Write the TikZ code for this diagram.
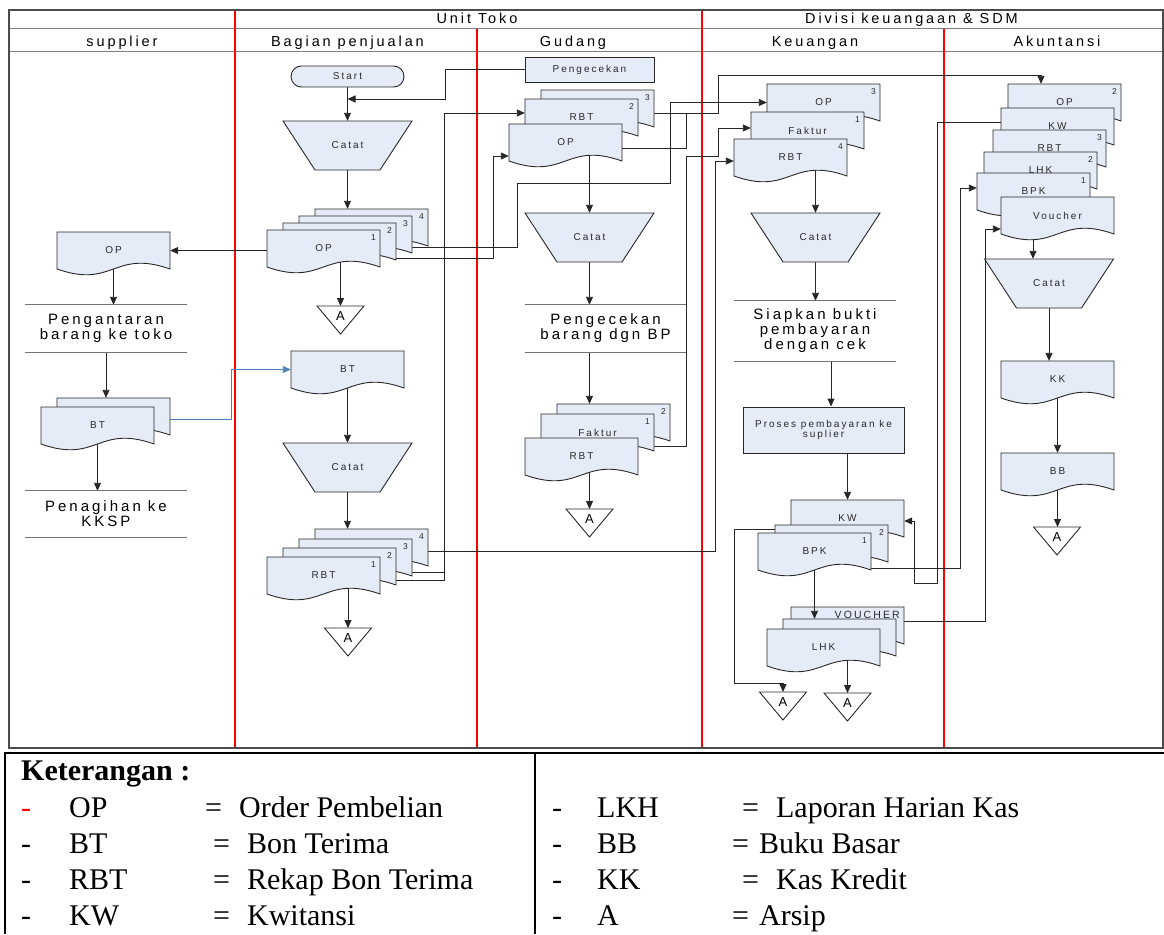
\documentclass[tikz,border=0pt]{standalone}
\usepackage{fontspec}
\setmainfont{Liberation Serif}
\newfontfamily\visfont{Liberation Sans}[LetterSpace=20]
\usetikzlibrary{arrows.meta, positioning, calc}
\definecolor{docblue}{RGB}{230,236,247}
\definecolor{inkgray}{RGB}{40,40,40}
\definecolor{linkblue}{RGB}{79,129,189}
\pgfdeclarelayer{back}
\pgfdeclarelayer{links}
\pgfsetlayers{back,links,main}
\tikzset{
  outerframe/.style={draw=black!70, line width=1.1pt},
  hdrline/.style={draw=black!50, line width=1pt},
  lane/.style={draw=red, line width=1.3pt},
  hdr/.style={anchor=base, inner sep=0pt, font=\visfont\fontsize{14.5}{17}\selectfont},
  shapeline/.style={draw=inkgray, line width=0.9pt, fill=docblue},
  docbody/.style={minimum width=113pt, minimum height=37pt, inner sep=0pt, text=inkgray,
    font=\visfont\fontsize{10}{12}\selectfont},
  docnum/.style={anchor=east, inner sep=0pt, text=inkgray, font=\visfont\fontsize{8.5}{10}\selectfont},
  catatbox/.style={minimum width=65pt, minimum height=49pt, inner sep=0pt, text=inkgray,
    font=\visfont\fontsize{10}{12}\selectfont},
  arsipbox/.style={anchor=north, minimum width=47pt, minimum height=19pt, inner sep=0pt,
    font=\visfont\fontsize{13}{14}\selectfont},
  procbox/.style={shapeline, rectangle, inner sep=0pt, align=center, text=inkgray,
    font=\visfont\fontsize{10}{10}\selectfont},
  term/.style={procbox, rounded corners=10.5pt, minimum width=113pt, minimum height=21pt},
  proc/.style={inner sep=0pt, align=center, font=\visfont\fontsize{15}{15}\selectfont},
  procline/.style={draw=black!55, line width=1pt},
  link/.style={draw=black!85, line width=0.9pt},
  flow/.style={link, -{Triangle[length=8pt, width=7pt]}},
  bluelink/.style={draw=linkblue, line width=0.9pt, -{Triangle[length=8pt, width=7pt]}},
  legendtext/.style={anchor=base west, inner sep=0pt, font=\fontsize{30}{32}\selectfont},
}
% document with wavy bottom: name, left, top, label, copy number
\newcommand{\docshape}[5]{%
  \filldraw[shapeline] (#2,#3) -- ({#2+113},#3) -- ({#2+113},{#3+37})
    .. controls ({#2+56.5},{#3+17}) and ({#2+56.5},{#3+57}) .. (#2,{#3+37}) -- cycle;
  \node[docbody] (#1) at ({#2+56.5},{#3+18.5}) {#4};
  \node[docnum] (#1n) at ({#2+109},{#3+7.5}) {#5};
}
% manual operation: name, centre x, top
\newcommand{\catat}[3]{%
  \filldraw[shapeline] ({#2-64.5},#3) -- ({#2+64.5},#3) -- ({#2+32.5},{#3+49})
    -- ({#2-32.5},{#3+49}) -- cycle;
  \node[catatbox] (#1) at (#2,{#3+24.5}) {Catat};
}
% archive triangle: name, centre x, top
\newcommand{\arsip}[3]{%
  \filldraw[shapeline, fill=white] ({#2-23.5},#3) -- ({#2+23.5},#3) -- (#2,{#3+28}) -- cycle;
  \node[arsipbox] (#1) at (#2,#3) {A};
}

\begin{document}
\begin{tikzpicture}[x=1pt, y=-1pt]
  \useasboundingbox (0,0) rectangle (1164,934);
  \begin{pgfonlayer}{back}
    \fill[white] (0,0) rectangle (1164,934);
    \draw[hdrline] (9,29) -- (1163,29) (9,52) -- (1163,52);
    \draw[lane] (235,10) -- (235,748) (702,10) -- (702,748);
    \draw[lane] (477,29) -- (477,748) (944,29) -- (944,748);
    \draw[outerframe] (9,10) rectangle (1163,748);
    \node[hdr] (hUnit) at (477,23.5) {Unit Toko};
    \node[hdr] (hDiv) at (911.5,23.5) {Divisi keuangaan \& SDM};
    \node[hdr] (hSup) at (122,46.5) {supplier};
    \node[hdr] (hPj) at (347.5,46.5) {Bagian penjualan};
    \node[hdr] (hGd) at (573,46.5) {Gudang};
    \node[hdr] (hKu) at (815,46.5) {Keuangan};
    \node[hdr] (hAk) at (1057,46.5) {Akuntansi};
  \end{pgfonlayer}

  % supplier
  \docshape{supOP}{57}{232}{OP}{}
  \node[proc, minimum width=162pt, minimum height=47pt] (supKirim) at (106,328.5) {Pengantaran\\barang ke toko};
  \docshape{supBTb}{57}{398}{}{}
  \docshape{supBT}{41}{407}{BT}{}
  \node[proc, minimum width=162pt, minimum height=46pt] (supTagih) at (106,514) {Penagihan ke\\KKSP};
  \draw[procline] (supKirim.north west) -- (supKirim.north east) (supKirim.south west) -- (supKirim.south east);
  \draw[procline] (supTagih.north west) -- (supTagih.north east) (supTagih.south west) -- (supTagih.south east);

  % bagian penjualan
  \node[term] (start) at (347.5,76.5) {Start};
  \catat{pjCatatA}{347.5}{121}
  \docshape{pjOP4}{315}{209}{}{4}
  \docshape{pjOP3}{299}{216}{}{3}
  \docshape{pjOP2}{283}{223}{}{2}
  \docshape{pjOP1}{267}{230}{OP}{1}
  \arsip{pjArsipA}{340.5}{306}
  \docshape{pjBT}{291}{351}{BT}{}
  \catat{pjCatatB}{347.5}{443}
  \docshape{pjRBT4}{315}{529}{}{4}
  \docshape{pjRBT3}{299}{539}{}{3}
  \docshape{pjRBT2}{283}{548}{}{2}
  \docshape{pjRBT1}{267}{557}{RBT}{1}
  \arsip{pjArsipB}{348}{628}

  % gudang
  \node[procbox, minimum width=129pt, minimum height=25pt] (gdCek) at (589.5,69.5) {Pengecekan};
  \docshape{gdRBT3}{541}{90}{}{3}
  \docshape{gdRBT2}{525}{99}{RBT}{2}
  \docshape{gdOP}{509}{124}{OP}{}
  \catat{gdCatat}{589.5}{213}
  \node[proc, minimum width=161pt, minimum height=47pt] (gdCekBrg) at (605.5,328.5) {Pengecekan\\barang dgn BP};
  \draw[procline] (gdCekBrg.north west) -- (gdCekBrg.north east) (gdCekBrg.south west) -- (gdCekBrg.south east);
  \docshape{gdFak2}{557}{404}{}{2}
  \docshape{gdFak1}{541}{414}{Faktur}{1}
  \docshape{gdRBT}{525}{438}{RBT}{}
  \arsip{gdArsip}{589.5}{509}

  % keuangan
  \docshape{kuOP}{767}{84}{OP}{3}
  \docshape{kuFak}{751}{112}{Faktur}{1}
  \docshape{kuRBT}{734}{139}{RBT}{4}
  \catat{kuCatat}{815.5}{213}
  \node[proc, minimum width=162pt, minimum height=60pt] (kuBukti) at (815,331) {Siapkan bukti\\pembayaran\\dengan cek};
  \draw[procline] (kuBukti.north west) -- (kuBukti.north east) (kuBukti.south west) -- (kuBukti.south east);
  \node[procbox, minimum width=161pt, minimum height=46pt] (kuBayar) at (823.5,430) {Proses pembayaran ke\\suplier};
  \docshape{kuKW}{791}{500}{KW}{}
  \docshape{kuBPK2}{775}{525}{}{2}
  \docshape{kuBPK}{758}{533}{BPK}{1}
  \docshape{kuVou}{791}{607}{}{\fontsize{10.5}{12}\selectfont VOUCHER}
  \docshape{kuLHK2}{783}{619}{}{}
  \docshape{kuLHK}{767}{629}{LHK}{}
  \arsip{kuArsipA}{783}{692}
  \arsip{kuArsipB}{847.5}{693}
  \draw[flow] (kuBPK.south) -- (kuBPK.south |- kuLHK2.north);

  % akuntansi
  \docshape{akOP}{1008}{84}{OP}{2}
  \docshape{akKW}{1001}{108}{KW}{}
  \docshape{akRBT}{993}{130}{RBT}{3}
  \docshape{akLHK}{984}{152}{LHK}{2}
  \docshape{akBPK}{977}{173}{BPK}{1}
  \docshape{akVou}{1001}{197}{Voucher}{}
  \catat{akCatat}{1049}{259}
  \docshape{akKK}{1001}{361}{KK}{}
  \docshape{akBB}{1001}{453}{BB}{}
  \arsip{akArsip}{1057}{527}

  \begin{pgfonlayer}{links}
    % supplier
    \draw[flow] (supOP.south) -- (supOP.south |- supKirim.north);
    \draw[flow] (supKirim.south) -- (supKirim.south |- supBTb.north);
    \draw[flow] (supBT.south) -- (supBT.south |- supTagih.north);
    \draw[bluelink] ([yshift=-2.5pt]supBTb.east) -- (231,419) |- (pjBT.west);
    % bagian penjualan
    \draw[flow] (start.south) -- (pjCatatA.north);
    \coordinate (cekJoin) at (347.5,99);
    \draw[flow] (gdCek.west) -| (445,99) -- (cekJoin);
    \draw[flow] (pjCatatA.south) -- (pjCatatA.south |- pjOP4.north);
    \draw[flow] (pjOP1.west |- supOP.east) -- (supOP.east);
    \draw[flow] (pjArsipA.north |- pjOP1.center) -- (pjArsipA.north);
    \draw[flow] ([yshift=-12.5pt]pjOP3.east) -| (517,183) -- (670,183) |- (kuOP.west);
    \draw[flow] ([yshift=-16.5pt]pjOP2.east) -- (493,258) |- ([yshift=-13.5pt]gdOP.west);
    \draw[flow] (pjBT.south) -- (pjCatatB.north);
    \draw[flow] (pjCatatB.south) -- (pjCatatB.south |- pjRBT4.north);
    \draw[flow] (pjArsipB.north |- pjRBT1.center) -- (pjArsipB.north);
    \draw[link] ([yshift=-14.5pt]pjRBT3.east) -- (444,572);
    \draw[flow] ([yshift=-13.5pt]pjRBT2.east) -| (444,113) -- ([yshift=4.5pt]gdRBT2.west);
    \draw[flow] ([yshift=-3.5pt]pjRBT4.east) -| (715,161) -- ([yshift=-3.5pt]kuRBT.west);
    % gudang
    \draw[flow] (gdCatat.north |- gdOP.center) -- (gdCatat.north);
    \draw[flow] (gdCatat.south) -- (gdCatat.south |- gdCekBrg.north);
    \draw[flow] (gdCatat.south |- gdCekBrg.south) -- (gdCatat.south |- gdFak2.north);
    \draw[flow] (gdArsip.north |- gdRBT.center) -- (gdArsip.north);
    \draw[flow] ([yshift=-4.5pt]gdRBT3.east) -| (718,75) -| ([xshift=-23.5pt]akOP.north);
    \draw[link] ([yshift=-5.5pt]gdOP.east) -| (686,113);
    \draw[flow] ([yshift=-13.5pt]gdFak1.east) -| (686,156) -| (718,128) -- ([yshift=2.5pt]kuFak.west);
    % keuangan
    \draw[flow] (kuCatat.north |- kuRBT.center) -- (kuCatat.north);
    \draw[flow] (kuCatat.south) -- (kuCatat.south |- kuBukti.north);
    \coordinate (kuTurun) at ([xshift=16pt]kuBukti.south);
    \draw[flow] (kuTurun) -- (kuTurun |- kuBayar.north);
    \draw[flow] (kuKW.north |- kuBayar.south) -- (kuKW.north);
    \draw[flow] ([yshift=14.5pt]kuBPK2.west) -| (734,683) -| (kuArsipA.north);
    \draw[flow] ([yshift=4.5pt]akKW.west) -| (937,583) -| (914,521) -- ([yshift=-2.5pt]kuKW.east);
    \draw[flow] ([yshift=-16.5pt]kuBPK.east) -| (960,188) -- ([yshift=3.5pt]akBPK.west);
    \draw[flow] ([yshift=4.5pt]kuVou.east) -| (985,229) -- ([yshift=-13.5pt]akVou.west);
    \draw[flow] (kuArsipB.north |- kuLHK.center) -- (kuArsipB.north);
    % akuntansi
    \coordinate (akTurun) at ([xshift=-24.5pt]akVou.center);
    \draw[flow] (akTurun) -- (akTurun |- akCatat.north);
    \draw[flow] (akCatat.south) -- (akCatat.south |- akKK.north);
    \draw[flow] (akKK.south) -- (akBB.north);
    \draw[flow] (akBB.south) -- (akBB.south |- akArsip.north);
  \end{pgfonlayer}

  % keterangan
  \draw[line width=2.2pt] (5,934) -- (5,753) -- (1164,753) (535,753) -- (535,934);
  \node[legendtext, font=\fontsize{30}{32}\selectfont\bfseries] (ket) at (21,780) {Keterangan :};
  \node[legendtext, text=red] (kDash1) at (21,817) {-};
  \node[legendtext] (kAb1) at (69,817) {OP};
  \node[legendtext] (kTx1) at (205,817) {=\hspace{17pt}Order Pembelian};
  \node[legendtext] (kDash2) at (21,853) {-};
  \node[legendtext] (kAb2) at (69,853) {BT};
  \node[legendtext] (kTx2) at (213,853) {=\hspace{17pt}Bon Terima};
  \node[legendtext] (kDash3) at (21,889) {-};
  \node[legendtext] (kAb3) at (69,889) {RBT};
  \node[legendtext] (kTx3) at (213,889) {=\hspace{17pt}Rekap Bon Terima};
  \node[legendtext] (kDash4) at (21,925) {-};
  \node[legendtext] (kAb4) at (69,925) {KW};
  \node[legendtext] (kTx4) at (213,925) {=\hspace{17pt}Kwitansi};
  \node[legendtext] (kDash5) at (552,817) {-};
  \node[legendtext] (kAb5) at (597,817) {LKH};
  \node[legendtext] (kTx5) at (742,817) {=\hspace{17pt}Laporan Harian Kas};
  \node[legendtext] (kDash6) at (552,853) {-};
  \node[legendtext] (kAb6) at (597,853) {BB};
  \node[legendtext] (kTx6) at (732,853) {=\hspace{10pt}Buku Basar};
  \node[legendtext] (kDash7) at (552,889) {-};
  \node[legendtext] (kAb7) at (597,889) {KK};
  \node[legendtext] (kTx7) at (742,889) {=\hspace{17pt}Kas Kredit};
  \node[legendtext] (kDash8) at (552,925) {-};
  \node[legendtext] (kAb8) at (597,925) {A};
  \node[legendtext] (kTx8) at (732,925) {=\hspace{10pt}Arsip};
\end{tikzpicture}
\end{document}
